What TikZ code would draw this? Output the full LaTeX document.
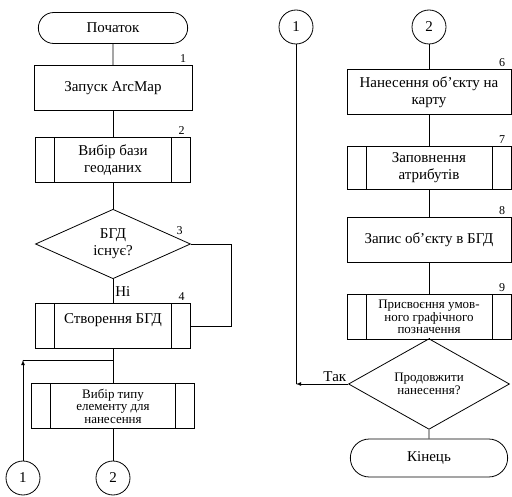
\documentclass[tikz,border=0pt]{standalone}
\usepackage{fontspec}
\setmainfont{Liberation Serif}
\newfontfamily\fcserif{Liberation Serif}
\usetikzlibrary{positioning,arrows,shapes.geometric,shapes.misc}
\newdimen\fcsubw
\setlength{\fcsubw}{19pt}
\newcommand{\fcbig}{\fcserif\fontsize{15}{17}\selectfont}
\newcommand{\fcsmall}{\fcserif\fontsize{13}{12.5}\selectfont}
\newcommand{\fcnumfont}{\fcserif\fontsize{12}{12}\selectfont}
\tikzstyle{fcline}=[line width=0.8pt]
\tikzstyle{termstyle}=[shape=rounded rectangle,draw,fcline,minimum width=156pt,minimum height=31pt,font=\fcbig]
\tikzstyle{procstyle}=[shape=rectangle,draw,fcline,minimum width=158pt,minimum height=45pt,align=center,font=\fcbig]
\tikzstyle{subprocstyle}=[procstyle,path picture={ \draw[fcline] ([xshift=\fcsubw]path picture bounding box.north west) -- ([xshift=\fcsubw]path picture bounding box.south west); \draw[fcline] ([xshift=-\fcsubw]path picture bounding box.north east) -- ([xshift=-\fcsubw]path picture bounding box.south east); }]
\tikzstyle{decstyle}=[shape=diamond,draw,fcline,inner sep=0pt,align=center,font=\fcbig]
\tikzstyle{connstyle}=[shape=circle,draw,fcline,minimum size=34pt,inner sep=0pt,font=\fcbig]
\newcommand{\fcnum}[2]{ \draw ([xshift=-4pt]#1.north east) node [anchor=south east,inner sep=2pt,font=\fcnumfont] {#2}; }

\begin{document}
\begin{tikzpicture}[x=1pt,y=-1pt]
\useasboundingbox (0,0) rectangle (512,497);
% left column
\draw (113,28) node [style=termstyle] (start) {Початок}; %
\draw (113,88) node [style=procstyle] (zapusk) {Запуск ArcMap}; %
\draw (113,160) node [style=subprocstyle,minimum width=155pt] (vybirbazy) {Вибір бази\\геоданих}; %
\draw (113,244) node [style=decstyle,minimum width=155pt,minimum height=67pt] (isnue) {БГД\\існує?}; %
\draw (113,326) node [style=subprocstyle,minimum width=155pt,text depth=15pt] (stvor) {Створення БГД}; %
\draw (113,406) node [style=subprocstyle,minimum width=163pt,font=\fcsmall] (vybirtypu) {Вибір типу\\елементу для\\нанесення}; %
\draw (23,478) node [style=connstyle] (lone) {1}; %
\draw (113,478) node [style=connstyle] (ltwo) {2}; %
\coordinate (ljoin) at (113,360); %
\fcnum{zapusk}{1} %
\fcnum{vybirbazy}{2} %
\draw ([xshift=-6pt,yshift=7pt]isnue.east) node [anchor=south east,inner sep=2pt,font=\fcnumfont] {3}; %
\fcnum{stvor}{4} %
\draw[fcline] (start) -- (zapusk); %
\draw[fcline] (zapusk) -- (vybirbazy); %
\draw[fcline] (vybirbazy) -- (isnue); %
\draw[fcline] (isnue.south) -- node [anchor=west,inner sep=2pt,font=\fcbig] {Ні} (stvor.north); %
\draw[fcline] (isnue.east) -| ([xshift=40pt]stvor.east) -- (stvor.east); %
\draw[fcline] (stvor.south) -- (vybirtypu.north); %
\draw[fcline,-latex] (lone.north) -- (lone |- ljoin); %
\draw[fcline] (lone |- ljoin) -- (ljoin); %
\draw[fcline] (vybirtypu) -- (ltwo); %
% right column
\draw (296,27) node [style=connstyle] (rone) {1}; %
\draw (429,27) node [style=connstyle] (rtwo) {2}; %
\draw (429,92) node [style=procstyle,minimum width=164pt] (nanes) {Нанесення об’єкту на\\карту}; %
\draw (429,168) node [style=subprocstyle,minimum width=164pt,minimum height=43pt] (zapovn) {Заповнення\\атрибутів}; %
\draw (429,240) node [style=procstyle,minimum width=164pt] (zapys) {Запис об’єкту в БГД}; %
\draw (429,317) node [style=subprocstyle,minimum width=164pt,font=\fcsmall] (prysv) {Присвоєння умов-\\ного графічного\\позначення}; %
\draw (429,384) node [style=decstyle,minimum width=161pt,minimum height=65pt,font=\fcsmall] (prodov) {Продовжити\\нанесення?}; %
\draw (429,458) node [style=termstyle,minimum width=164pt,minimum height=38pt] (kinec) {Кінець}; %
\fcnum{nanes}{6} %
\fcnum{zapovn}{7} %
\fcnum{zapys}{8} %
\fcnum{prysv}{9} %
\draw[fcline] (rtwo) -- (nanes); %
\draw[fcline] (nanes) -- (zapovn); %
\draw[fcline] (zapovn) -- (zapys); %
\draw[fcline] (zapys) -- (prysv); %
\draw[fcline] (prysv) -- (prodov); %
\draw[fcline] (prodov) -- (kinec); %
\draw[fcline,-latex] (prodov.west) -- node [pos=0,anchor=south east,inner sep=1.5pt,font=\fcbig] {Так} (rone |- prodov.west); %
\draw[fcline] (rone.south) -- (rone |- prodov.west); %
\end{tikzpicture}
\end{document}
